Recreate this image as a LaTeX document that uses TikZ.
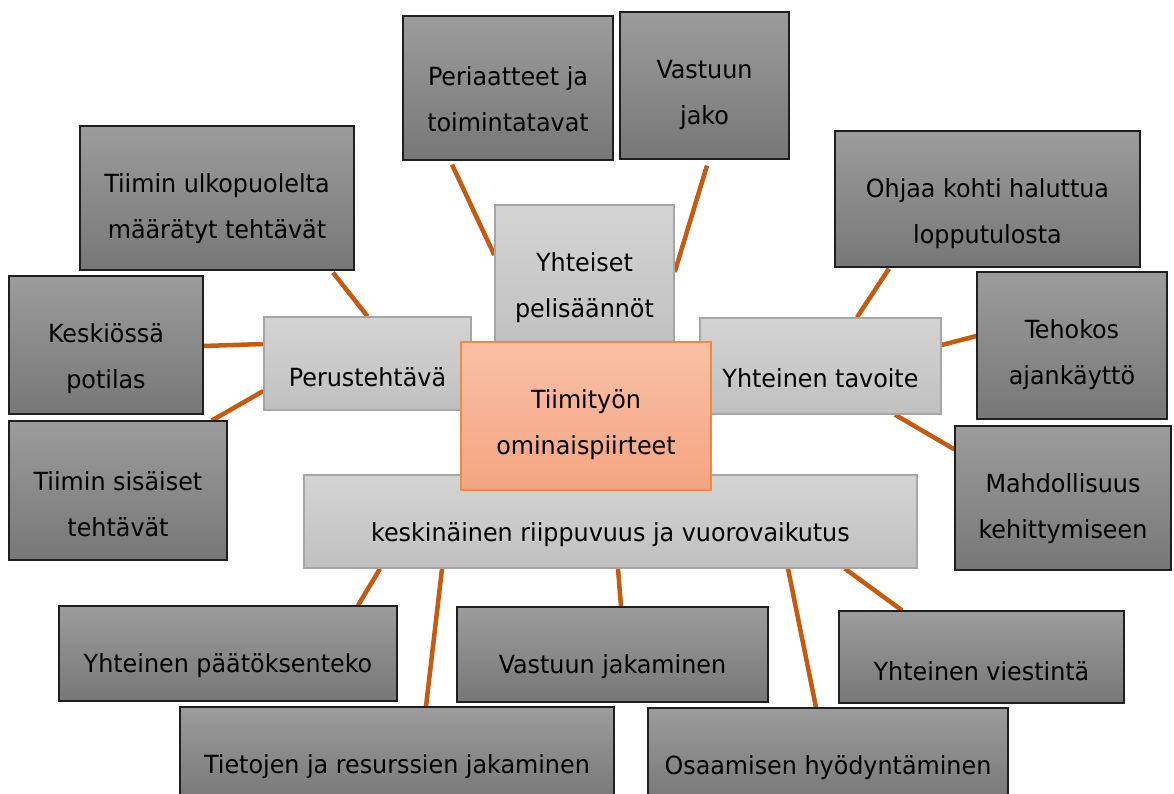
\documentclass[tikz,border=0pt]{standalone}
\usepackage{fontspec}
\IfFontExistsTF{DejaVu Sans Condensed}{\setmainfont{DejaVu Sans Condensed}[FakeStretch=1.06]}{\setmainfont{DejaVu Sans}[FakeStretch=0.9]}
\usetikzlibrary{backgrounds}
\definecolor{linkc}{RGB}{197,90,17}
\definecolor{darktop}{RGB}{156,156,156}
\definecolor{darkbot}{RGB}{119,119,119}
\definecolor{lighttop}{RGB}{212,212,212}
\definecolor{lightbot}{RGB}{192,192,192}
\definecolor{orangetop}{RGB}{248,192,167}
\definecolor{orangebot}{RGB}{245,165,128}
\definecolor{orangeline}{RGB}{242,138,61}

\begin{document}
\begin{tikzpicture}[x=1pt,y=-1pt]
        \tikzset{darkbox/.style={draw=black!88,line width=1.2pt,top color=darktop,bottom color=darkbot,inner sep=0pt},
                 lightbox/.style={draw=black!35,line width=1.4pt,top color=lighttop,bottom color=lightbot,inner sep=0pt},
                 corebox/.style={draw=orangeline,line width=1.4pt,top color=orangetop,bottom color=orangebot,inner sep=0pt},
                 boxtext/.style={align=center,inner sep=0pt,font=\fontsize{25}{46}\selectfont},
                 link/.style={draw=linkc,line width=4.5pt}}
        \useasboundingbox (0,0) rectangle (1174,794);
        \node (yht) at (584.5,277.5) [lightbox,minimum width=179,minimum height=145] {};
        \node (yht-txt) at ([yshift=-83.5pt]yht.north) [boxtext] {Yhteiset\\pelisäännöt};
        \node (perus) at (367.5,363.5) [lightbox,minimum width=207,minimum height=93] {};
        \node (perus-txt) at ([yshift=-60.5pt]perus.north) [boxtext] {Perustehtävä};
        \node (tav) at (820.5,366) [lightbox,minimum width=241,minimum height=96] {};
        \node (tav-txt) at ([yshift=-60.5pt]tav.north) [boxtext] {Yhteinen tavoite};
        \node (keski) at (610.5,521.5) [lightbox,minimum width=613,minimum height=93] {};
        \node (keski-txt) at ([yshift=-60.5pt]keski.north) [boxtext] {keskinäinen riippuvuus ja vuorovaikutus};
        \node (core) at (586,416) [corebox,minimum width=250,minimum height=148] {};
        \node (core-txt) at ([yshift=-83.5pt]core.north) [boxtext] {Tiimityön\\ominaispiirteet};
        \node (peri) at (508,88) [darkbox,minimum width=210,minimum height=144] {};
        \node (peri-txt) at ([yshift=-83.5pt]peri.north) [boxtext] {Periaatteet ja\\toimintatavat};
        \node (vjako) at (704.5,85.5) [darkbox,minimum width=169,minimum height=147] {};
        \node (vjako-txt) at ([yshift=-83.5pt]vjako.north) [boxtext] {Vastuun\\jako};
        \node (ulko) at (217,198) [darkbox,minimum width=274,minimum height=144] {};
        \node (ulko-txt) at ([yshift=-83.5pt]ulko.north) [boxtext] {Tiimin ulkopuolelta\\määrätyt tehtävät};
        \node (potilas) at (106,345) [darkbox,minimum width=194,minimum height=138] {};
        \node (potilas-txt) at ([yshift=-83.5pt]potilas.north) [boxtext] {Keskiössä\\potilas};
        \node (sisa) at (118,490.5) [darkbox,minimum width=218,minimum height=139] {};
        \node (sisa-txt) at ([yshift=-83.5pt]sisa.north) [boxtext] {Tiimin sisäiset\\tehtävät};
        \node (ohjaa) at (987.5,199) [darkbox,minimum width=305,minimum height=136] {};
        \node (ohjaa-txt) at ([yshift=-83.5pt]ohjaa.north) [boxtext] {Ohjaa kohti haluttua\\lopputulosta};
        \node (teho) at (1072,345.5) [darkbox,minimum width=190,minimum height=147] {};
        \node (teho-txt) at ([yshift=-83.5pt]teho.north) [boxtext] {Tehokos\\ajankäyttö};
        \node (mahd) at (1063,498) [darkbox,minimum width=216,minimum height=144] {};
        \node (mahd-txt) at ([yshift=-83.5pt]mahd.north) [boxtext] {Mahdollisuus\\kehittymiseen};
        \node (paatos) at (228,653.5) [darkbox,minimum width=338,minimum height=95] {};
        \node (paatos-txt) at ([yshift=-60.5pt]paatos.north) [boxtext] {Yhteinen päätöksenteko};
        \node (tieto) at (397,754.5) [darkbox,minimum width=434,minimum height=95] {};
        \node (tieto-txt) at ([yshift=-60.5pt]tieto.north) [boxtext] {Tietojen ja resurssien jakaminen};
        \node (vjakam) at (612.5,654.5) [darkbox,minimum width=311,minimum height=95] {};
        \node (vjakam-txt) at ([yshift=-60.5pt]vjakam.north) [boxtext] {Vastuun jakaminen};
        \node (osaam) at (828,755.5) [darkbox,minimum width=360,minimum height=95] {};
        \node (osaam-txt) at ([yshift=-60.5pt]osaam.north) [boxtext] {Osaamisen hyödyntäminen};
        \node (viest) at (981.5,657) [darkbox,minimum width=285,minimum height=92] {};
        \node (viest-txt) at ([yshift=-60.5pt]viest.north) [boxtext] {Yhteinen viestintä};
        \begin{scope}[on background layer]
        \draw [link] ([xshift=-56pt,yshift=-4pt]peri.south) -- ([yshift=22.5pt]yht.west);
        \draw [link] ([xshift=2.5pt,yshift=-6pt]vjako.south) -- ([yshift=5.5pt]yht.east);
        \draw [link] ([xshift=116pt,yshift=-2pt]ulko.south) -- (perus.north);
        \draw [link] ([yshift=-1pt]potilas.east) -- ([yshift=19.5pt]perus.west);
        \draw [link] ([xshift=94pt]sisa.north) -- ([yshift=-27.5pt]perus.west);
        \draw [link] ([xshift=-98.5pt,yshift=-1pt]ohjaa.south) -- ([xshift=36.5pt]tav.north);
        \draw [link] ([yshift=9.5pt]teho.west) -- ([yshift=21pt]tav.east);
        \draw [link] ([yshift=-24pt]mahd.north west) -- ([xshift=74.5pt]tav.south);
        \draw [link] ([xshift=130pt]paatos.north) -- ([xshift=-230.5pt]keski.south);
        \draw [link] ([xshift=29pt]tieto.north) -- ([xshift=-168.5pt]keski.south);
        \draw [link] ([xshift=8.5pt]vjakam.north) -- ([xshift=7.5pt]keski.south);
        \draw [link] ([xshift=-12pt]osaam.north) -- ([xshift=177.5pt]keski.south);
        \draw [link] ([xshift=-79.5pt]viest.north) -- ([xshift=234.5pt]keski.south);
        \end{scope}
\end{tikzpicture}
\end{document}
